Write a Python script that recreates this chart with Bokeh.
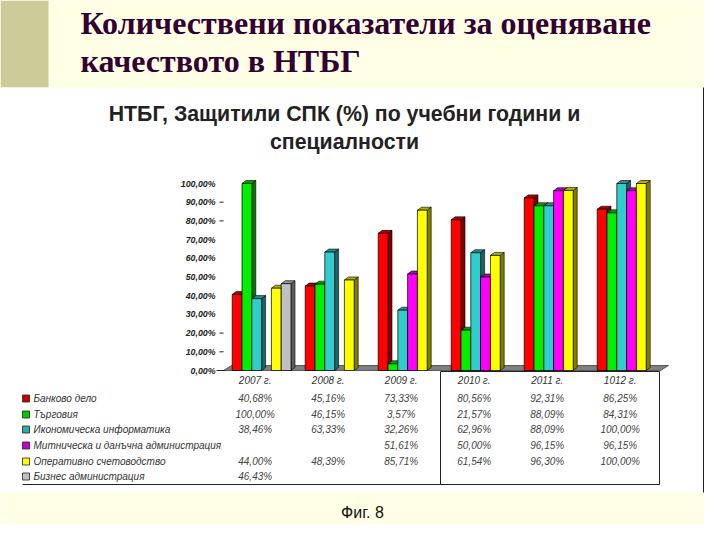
from bokeh.plotting import figure
from bokeh.models import Range1d
from bokeh.core.properties import value
from bokeh.embed import file_html
from bokeh.resources import INLINE

# ---------------- data ----------------
years = ["2007 г.", "2008 г.", "2009 г.", "2010 г.", "2011 г.", "1012 г."]
series_names = [
    "Банково дело",
    "Търговия",
    "Икономическа информатика",
    "Митническа и данъчна администрация",
    "Оперативно счетоводство",
    "Бизнес администрация",
]
bankovo_delo = [40.68, 45.16, 73.33, 80.56, 92.31, 86.25]
targovia = [100.00, 46.15, 3.57, 21.57, 88.09, 84.31]
ikon_informatika = [38.46, 63.33, 32.26, 62.96, 88.09, 100.00]
mitnicheska = [None, None, 51.61, 50.00, 96.15, 96.15]
operativno = [44.00, 48.39, 85.71, 61.54, 96.30, 100.00]
biznes_admin = [46.43, None, None, None, None, None]
y_ticks = [0, 10, 20, 30, 40, 50, 60, 70, 80, 90, 100]
y_tick_labels = ["0,00%", "10,00%", "20,00%", "30,00%", "40,00%", "50,00%",
                 "60,00%", "70,00%", "80,00%", "90,00%", "100,00%"]
series = [bankovo_delo, targovia, ikon_informatika, mitnicheska, operativno, biznes_admin]

# ---------------- styles ----------------
front_colors = ["#FF0000", "#00EE00", "#33CCCC", "#FF00FF", "#FFFF00", "#C0C0C0"]
side_colors = ["#800000", "#007700", "#1A6666", "#800080", "#808000", "#606060"]
top_colors = ["#B00000", "#00A000", "#238F8F", "#B000B0", "#B0B000", "#909090"]
legend_colors = ["#CC0000", "#00CC00", "#33AAAA", "#CC00CC", "#FFFF00", "#C0C0C0"]

PX0 = 231.7        # left edge of first group (page px)
GROUP_PX = 73.0
SLOT_PX = 9.8
Y0_PX = 370.0
PX_PER_PCT = 1.87

W, H = 704, 524
p = figure(width=W, height=H, x_range=Range1d(0, W), y_range=Range1d(H, 0),
           output_backend="svg", toolbar_location=None, min_border=0,
           x_axis_location=None, y_axis_location=None)
p.xgrid.grid_line_color = None
p.ygrid.grid_line_color = None
p.outline_line_color = None
p.background_fill_color = "#FFFFE6"
p.border_fill_color = "#FFFFE6"

p.extra_x_ranges = {"grp": Range1d((0 - PX0) / GROUP_PX, (W - PX0) / GROUP_PX)}
p.extra_y_ranges = {"pct": Range1d(-(H - Y0_PX) / PX_PER_PCT, Y0_PX / PX_PER_PCT)}

# ---------------- slide decoration ----------------
p.quad(left=[0], right=[48], top=[0], bottom=[87], fill_color="#CCCC99", line_color=None)
p.quad(left=[0], right=[715], top=[87], bottom=[492], fill_color="white", line_color=None)
p.segment(x0=[703], y0=[87], x1=[703], y1=[492], line_color="#222222", line_width=1)

title_font = value("Liberation Serif")
p.text(x=[80, 80], y=[22, 60],
       text=["Количествени показатели за оценяване", "качеството в НТБГ"],
       text_font=title_font, text_font_style="bold", text_font_size="32px",
       text_color="#330033", text_baseline="middle", text_align="left")

sans = value("Liberation Sans")
p.text(x=[344, 344], y=[113, 141],
       text=["НТБГ, Защитили СПК (%) по учебни години и", "специалности"],
       text_font=sans, text_font_style="bold", text_font_size="21.3px",
       text_color="#222222", text_baseline="middle", text_align="center")

p.text(x=[362], y=[512], text=["Фиг. 8"], text_font=sans, text_font_size="16px",
       text_color="#111111", text_baseline="middle", text_align="center")

# ---------------- floor ----------------
p.patch(x=[223, 660, 668, 231], y=[370, 370, 365, 365], fill_color="#808080",
        line_color="#404040", line_width=0.8)

# ---------------- bars ----------------
w = SLOT_PX / GROUP_PX
dxu = 4.0 / GROUP_PX
dyp = 3.0 / PX_PER_PCT
for j, vals in enumerate(series):
    lefts, rights, tops = [], [], []
    side_xs, side_ys, top_xs, top_ys = [], [], [], []
    for i, v in enumerate(vals):
        if v is None:
            continue
        xl = i + j * w
        xr = xl + w
        lefts.append(xl); rights.append(xr); tops.append(v)
        side_xs.append([xr, xr + dxu, xr + dxu, xr])
        side_ys.append([0, dyp, v + dyp, v])
        top_xs.append([xl, xl + dxu, xr + dxu, xr])
        top_ys.append([v, v + dyp, v + dyp, v])
    if not lefts:
        continue
    p.patches(xs=side_xs, ys=side_ys, fill_color=side_colors[j], line_color="black",
              line_width=0.6, x_range_name="grp", y_range_name="pct")
    p.patches(xs=top_xs, ys=top_ys, fill_color=top_colors[j], line_color="black",
              line_width=0.6, x_range_name="grp", y_range_name="pct")
    p.quad(left=lefts, right=rights, bottom=[0] * len(lefts), top=tops,
           fill_color=front_colors[j], line_color="black", line_width=0.7,
           x_range_name="grp", y_range_name="pct")

# ---------------- y axis (ticks & labels) ----------------
p.text(x=[215] * len(y_ticks), y=y_ticks, text=y_tick_labels, y_range_name="pct",
       text_font=sans, text_font_style="bold italic", text_font_size="8.8px",
       text_color="#222222", text_baseline="middle", text_align="right")
tick_marks = [0, 10, 20, 80, 90]
p.segment(x0=[216 if t == 0 else 219 for t in tick_marks], x1=[225 if t == 0 else 223 for t in tick_marks],
          y0=tick_marks, y1=tick_marks, y_range_name="pct", line_color="#222222", line_width=1)

# ---------------- data table ----------------
col_x = [i + 23.0 / GROUP_PX for i in range(len(years))]
p.text(x=col_x, y=[380] * len(years), text=years, x_range_name="grp",
       text_font=sans, text_font_style="italic", text_font_size="10px",
       text_color="#333333", text_baseline="middle", text_align="center")

row_y = [398, 414, 429, 445, 461, 476]
for j, vals in enumerate(series):
    xs, ys, txt = [], [], []
    for i, v in enumerate(vals):
        if v is None:
            continue
        xs.append(col_x[i]); ys.append(row_y[j])
        txt.append(f"{v:.2f}".replace(".", ",") + "%")
    p.text(x=xs, y=ys, text=txt, x_range_name="grp",
           text_font=sans, text_font_style="italic", text_font_size="10px",
           text_color="#444444", text_baseline="middle", text_align="center")

p.scatter(x=[25.5] * len(series_names), y=row_y, marker="square", size=7,
          fill_color=legend_colors, line_color="#222222", line_width=0.8)
p.text(x=[33] * len(series_names), y=row_y, text=series_names,
       text_font=sans, text_font_style="italic", text_font_size="10px",
       text_color="#333333", text_baseline="middle", text_align="left")

# table frame lines
p.multi_line(xs=[[22, 659], [440, 440], [659, 659], [440, 659]],
             ys=[[484, 484], [371, 484], [371, 484], [371, 371]],
             line_color="#222222", line_width=1)

open("out.html", "w").write(file_html(p, INLINE))
